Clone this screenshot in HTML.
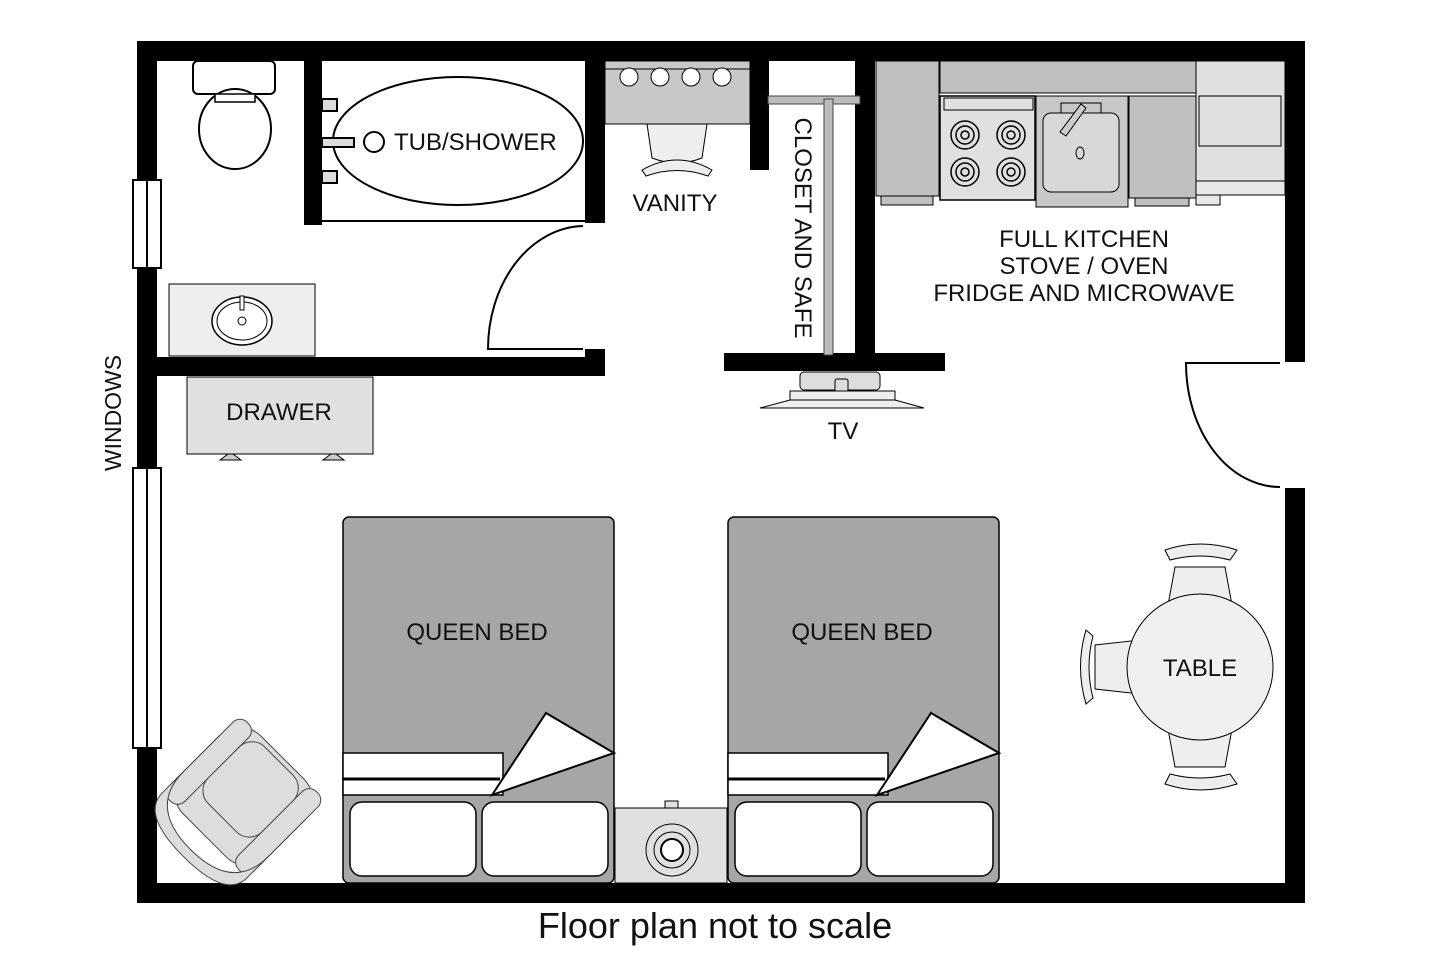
<!DOCTYPE html>
<html><head><meta charset="utf-8"><style>
html,body{margin:0;padding:0;background:#fff;}
svg{display:block;}
text{font-family:"Liberation Sans",Arial,sans-serif;fill:#111;}
</style></head><body>
<svg width="1443" height="961" viewBox="0 0 1443 961" xmlns="http://www.w3.org/2000/svg">
<rect width="1443" height="961" fill="#fff"/>
<rect x="137" y="41" width="1168" height="20" fill="#000"/>
<rect x="137" y="883" width="1168" height="20" fill="#000"/>
<rect x="137" y="41" width="20" height="862" fill="#000"/>
<rect x="1285" y="41" width="20" height="321" fill="#000"/>
<rect x="1285" y="488" width="20" height="415" fill="#000"/>
<rect x="133" y="180" width="28" height="88" fill="#fff" stroke="#000" stroke-width="2"/>
<line x1="147" y1="180" x2="147" y2="268" stroke="#000" stroke-width="2"/>
<rect x="133" y="468" width="28" height="280" fill="#fff" stroke="#000" stroke-width="2"/>
<line x1="147" y1="468" x2="147" y2="748" stroke="#000" stroke-width="2"/>
<text x="121" y="413" font-size="23" text-anchor="middle" transform="rotate(-90 121 413)">WINDOWS</text>
<rect x="304" y="61" width="18" height="164" fill="#000"/>
<rect x="585" y="61" width="20" height="162" fill="#000"/>
<rect x="157" y="357" width="448" height="19" fill="#000"/>
<rect x="585" y="349" width="20" height="27" fill="#000"/>
<line x1="322" y1="221" x2="585" y2="221" stroke="#000" stroke-width="2"/>
<rect x="193" y="61" width="82" height="33" rx="5" fill="#fff" stroke="#000" stroke-width="2"/>
<ellipse cx="235" cy="129" rx="36" ry="40" fill="#fff" stroke="#000" stroke-width="2"/>
<rect x="215" y="94" width="40" height="8" fill="#fff" stroke="#000" stroke-width="1.5"/>
<ellipse cx="458" cy="141" rx="125" ry="64" fill="#fff" stroke="#000" stroke-width="2"/>
<rect x="322" y="99" width="15" height="12" fill="#ddd" stroke="#000" stroke-width="2"/>
<rect x="322" y="171" width="15" height="12" fill="#ddd" stroke="#000" stroke-width="2"/>
<rect x="322" y="138" width="32" height="9" fill="#ddd" stroke="#000" stroke-width="2"/>
<circle cx="374" cy="142" r="10" fill="#fff" stroke="#000" stroke-width="2"/>
<text x="394" y="150" font-size="24">TUB/SHOWER</text>
<path d="M583,349 L488,349 A97,123 0 0 1 583,226" fill="none" stroke="#000" stroke-width="2"/>
<rect x="169" y="284" width="146" height="72" fill="#eee" stroke="#000" stroke-width="1"/>
<ellipse cx="242" cy="321" rx="30" ry="24" fill="#fff" stroke="#000" stroke-width="1.5"/>
<ellipse cx="242" cy="321" rx="25" ry="19" fill="none" stroke="#000" stroke-width="1"/>
<rect x="240" y="296" width="4" height="14" fill="#fff" stroke="#000"/>
<circle cx="242" cy="321" r="4" fill="none" stroke="#000"/>
<rect x="187" y="377" width="186" height="77" fill="#e0e0e0" stroke="#000" stroke-width="1"/>
<text x="279" y="420" font-size="24" text-anchor="middle">DRAWER</text>
<path d="M220,460 L228,454 L233,454 L241,460 Z M323,460 L331,454 L336,454 L344,460 Z" fill="#ccc" stroke="#000" stroke-width="1"/>
<rect x="605" y="61" width="145" height="63" fill="#c8c8c8" stroke="#000" stroke-width="1"/>
<line x1="605" y1="69" x2="750" y2="69" stroke="#000"/>
<circle cx="629" cy="77" r="9" fill="#fff" stroke="#000"/>
<circle cx="660" cy="77" r="9" fill="#fff" stroke="#000"/>
<circle cx="691" cy="77" r="9" fill="#fff" stroke="#000"/>
<circle cx="722" cy="77" r="9" fill="#fff" stroke="#000"/>
<path d="M647,124 L707,124 L702,158 Q677,168 652,158 Z" fill="#eee" stroke="#000"/>
<path d="M642,170 Q677,150 712,170 L708,176 Q677,165 646,176 Z" fill="#eee" stroke="#000"/>
<text x="675" y="211" font-size="24" text-anchor="middle">VANITY</text>
<rect x="750" y="61" width="19" height="109" fill="#000"/>
<rect x="855" y="61" width="20" height="310" fill="#000"/>
<rect x="724" y="353" width="221" height="18" fill="#000"/>
<rect x="768" y="96" width="92" height="8" fill="#bbb" stroke="#444" stroke-width="1"/>
<rect x="824" y="99" width="9" height="256" fill="#bbb" stroke="#444" stroke-width="1"/>
<text x="803" y="228" font-size="24" text-anchor="middle" transform="rotate(90 803 228)" dy="8">CLOSET AND SAFE</text>
<rect x="800" y="372" width="80" height="18" rx="4" fill="#ddd" stroke="#000"/>
<rect x="835" y="379" width="13" height="14" rx="2" fill="#ddd" stroke="#000"/>
<rect x="790" y="391" width="105" height="9" fill="#eee" stroke="#000"/>
<path d="M790,400 L760,408 L924,408 L895,400 Z" fill="#eee" stroke="#000"/>
<text x="843" y="439" font-size="24" text-anchor="middle">TV</text>
<rect x="876" y="61" width="63" height="135" fill="#c0c0c0" stroke="#000"/>
<rect x="881" y="196" width="52" height="9" fill="#c0c0c0" stroke="#000"/>
<rect x="940" y="61" width="258" height="32" fill="#c0c0c0" stroke="#000"/>
<rect x="940" y="96" width="95" height="104" fill="#e0e0e0" stroke="#000" stroke-width="1.5"/>
<rect x="944" y="98" width="89" height="12" fill="#e0e0e0" stroke="#000"/>
<g fill="none" stroke="#000" stroke-width="1.5">
<circle cx="965" cy="135" r="14"/><circle cx="965" cy="135" r="9"/><circle cx="965" cy="135" r="4"/>
<circle cx="1011" cy="135" r="14"/><circle cx="1011" cy="135" r="9"/><circle cx="1011" cy="135" r="4"/>
<circle cx="965" cy="172" r="14"/><circle cx="965" cy="172" r="9"/><circle cx="965" cy="172" r="4"/>
<circle cx="1011" cy="172" r="14"/><circle cx="1011" cy="172" r="9"/><circle cx="1011" cy="172" r="4"/>
</g>
<rect x="1036" y="96" width="92" height="111" fill="#c8c8c8" stroke="#000"/>
<rect x="1043" y="113" width="76" height="79" rx="8" fill="#d8d8d8" stroke="#000"/>
<rect x="1061" y="103" width="40" height="10" fill="#c8c8c8" stroke="#000"/>
<path d="M1081,104 L1086,108 L1066,136 L1060,132 Z" fill="#ccc" stroke="#000"/>
<ellipse cx="1080" cy="153" rx="4" ry="6" fill="none" stroke="#000"/>
<rect x="1129" y="96" width="67" height="102" fill="#c0c0c0" stroke="#000"/>
<rect x="1135" y="198" width="54" height="8" fill="#c0c0c0" stroke="#000"/>
<rect x="1196" y="61" width="89" height="134" fill="#e0e0e0" stroke="#000"/>
<rect x="1199" y="96" width="82" height="50" fill="#e0e0e0" stroke="#000"/>
<rect x="1196" y="181" width="89" height="14" fill="#e8e8e8" stroke="#000"/>
<rect x="1196" y="195" width="24" height="10" fill="#e8e8e8" stroke="#000"/>
<text x="1084" y="247" font-size="24" text-anchor="middle">FULL KITCHEN</text>
<text x="1084" y="274" font-size="24" text-anchor="middle">STOVE / OVEN</text>
<text x="1084" y="301" font-size="24" text-anchor="middle">FRIDGE AND MICROWAVE</text>
<path d="M1280,363 L1186,363 A94,124 0 0 0 1280,487" fill="none" stroke="#000" stroke-width="2"/>
<g id="bed">
<rect x="343" y="517" width="271" height="366" rx="6" fill="#a6a6a6" stroke="#000" stroke-width="1.5"/>
<rect x="343" y="753" width="160" height="42" fill="#fff" stroke="#000" stroke-width="1.5"/>
<line x1="343" y1="779" x2="500" y2="779" stroke="#000" stroke-width="3"/>
<path d="M492,795 L546,713 L614,753 Z" fill="#fff" stroke="#000" stroke-width="2"/>
<rect x="350" y="802" width="126" height="74" rx="12" fill="#fff" stroke="#000" stroke-width="1.5"/>
<rect x="482" y="802" width="126" height="74" rx="12" fill="#fff" stroke="#000" stroke-width="1.5"/>
<text x="477" y="640" font-size="24" text-anchor="middle">QUEEN BED</text>
</g>
<use href="#bed" x="385"/>
<rect x="615" y="808" width="112" height="75" fill="#e0e0e0" stroke="#000"/>
<rect x="665" y="801" width="13" height="7" fill="#e0e0e0" stroke="#000"/>
<circle cx="672" cy="850" r="26" fill="#e0e0e0" stroke="#000"/>
<circle cx="672" cy="850" r="18" fill="none" stroke="#000"/>
<circle cx="672" cy="850" r="11" fill="#fff" stroke="#000" stroke-width="2"/>
<g transform="rotate(45 240 800)" fill="#ddd" stroke="#444" stroke-width="1">
<rect x="180" y="740" width="120" height="110" rx="30"/>
<rect x="180" y="740" width="22" height="110" rx="10"/>
<rect x="278" y="740" width="22" height="110" rx="10"/>
<path d="M180,820 Q180,870 240,870 Q300,870 300,820 L300,850 Q300,880 240,880 Q180,880 180,850Z"/>
<rect x="202" y="745" width="76" height="80" rx="18"/>
</g>
<g fill="#eee" stroke="#000" stroke-width="1">
<path d="M1175,567 L1225,567 L1232,605 L1168,605 Z"/>
<path d="M1165,550 Q1200,538 1237,550 L1230,560 Q1200,552 1170,560 Z"/>
<path d="M1175,767 L1225,767 L1232,729 L1168,729 Z"/>
<path d="M1165,784 Q1200,796 1237,784 L1230,774 Q1200,782 1170,774 Z"/>
<path d="M1095,645 L1140,640 L1140,694 L1095,689 Z"/>
<path d="M1086,630 Q1075,667 1086,704 L1093,698 Q1085,667 1093,636 Z"/>
<circle cx="1200" cy="667" r="73" fill="#f0f0f0"/>
</g>
<text x="1200" y="676" font-size="24" text-anchor="middle">TABLE</text>
<text x="715" y="938" font-size="36" text-anchor="middle">Floor plan not to scale</text>
</svg>
</body></html>
